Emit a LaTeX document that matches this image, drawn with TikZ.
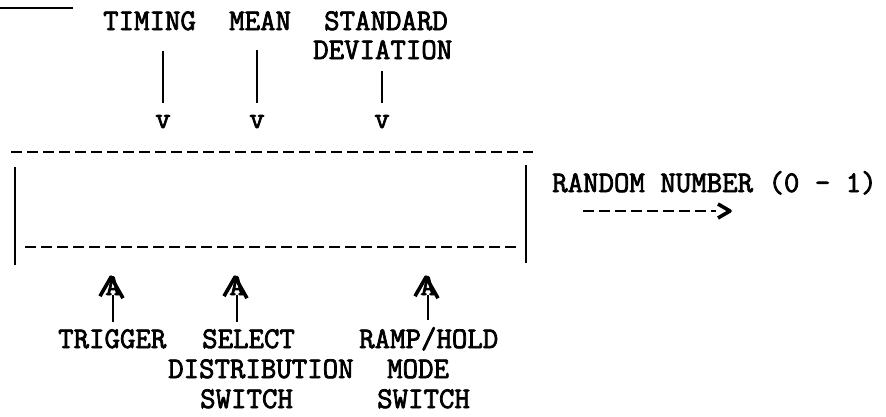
\documentclass[tikz,border=0pt]{standalone}
\usepackage{fontspec}
\newfontfamily\maquina[FakeBold=2.5]{Latin Modern Mono}
\begin{document}
\begin{tikzpicture}[x=1pt, y=-1pt,
    texto/.style={font=\maquina\fontsize{30}{30}\selectfont, inner sep=0pt, anchor=base west},
    punta/.style={font=\maquina\fontsize{30}{30}\selectfont, inner sep=0pt, anchor=base},
    linea/.style={line width=1.6pt},
    guiones/.style={line width=2.4pt, dash pattern=on 11pt off 5pt},
    gancho/.style={line width=3.6pt, line join=round}]
    \useasboundingbox (0,0) rectangle (886,416);

    % Subrayado del titulo (cortado arriba)
    \draw[line width=2pt] (0,8) -- (73,8);

    % Entradas de arriba
    \node[texto] (timing) at (103,30) {TIMING};
    \node[texto] (media) at (229,30) {MEAN};
    \node[texto] (desv1) at (324,30) {STANDARD};
    \node[texto] (desv2) at (313,59) {DEVIATION};
    \node[punta] (vT) at (163,128) {v};
    \node[punta] (vM) at (257,128) {v};
    \node[punta] (vD) at (382,128) {v};
    \draw[linea, shorten <=20pt, shorten >=12pt] (vT |- timing.south) -- (vT.north);
    \draw[linea, shorten <=20pt, shorten >=12pt] (vM |- media.south) -- (vM.north);
    \draw[linea, shorten <=11pt, shorten >=12pt] (vD |- desv2.south) -- (vD.north);

    % Caja del generador
    \draw[guiones] (11,152) -- (533,152);
    \draw[linea] (15,167) -- (15,265);
    \draw[linea] (526,165) -- (526,263);
    \draw[guiones] (25,247) -- (516,247);

    % Salida
    \node[texto] (salida) at (552,192) {RANDOM NUMBER (0 - 1)};
    \coordinate (ini) at (583,211);
    \coordinate (fin) at (716,211);
    \draw[guiones] (ini) -- (fin);
    \draw[gancho] ([xshift=2pt,yshift=-7pt]fin) -- ([xshift=14pt]fin) -- ([xshift=2pt,yshift=7pt]fin);

    % Entradas de abajo
    \node[texto] (disparo) at (58,348) {TRIGGER};
    \node[texto] (selec1) at (202,348) {SELECT};
    \node[texto] (selec2) at (168,378) {DISTRIBUTION};
    \node[texto] (selec3) at (200,408) {SWITCH};
    \node[texto] (modo1) at (359,348) {RAMP/HOLD};
    \node[texto] (modo2) at (387,378) {MODE};
    \node[texto] (modo3) at (377,408) {SWITCH};

    \foreach \n/\x in {aT/113, aS/237, aR/428} {
        \node[punta] (\n) at (\x,295) {A};
        \draw[gancho] ([xshift=-13pt,yshift=-1pt]\n.south) -- ([xshift=-2pt,yshift=-1pt]\n.north)
            -- ([xshift=10pt,yshift=-3pt]\n.south);
    }
    \draw[linea, shorten >=7pt] (aT.south) -- (aT |- disparo.north);
    \draw[linea, shorten >=7pt] (aS.south) -- (aS |- selec1.north);
    \draw[linea, shorten >=7pt] (aR.south) -- (aR |- modo1.north);
\end{tikzpicture}
\end{document}
